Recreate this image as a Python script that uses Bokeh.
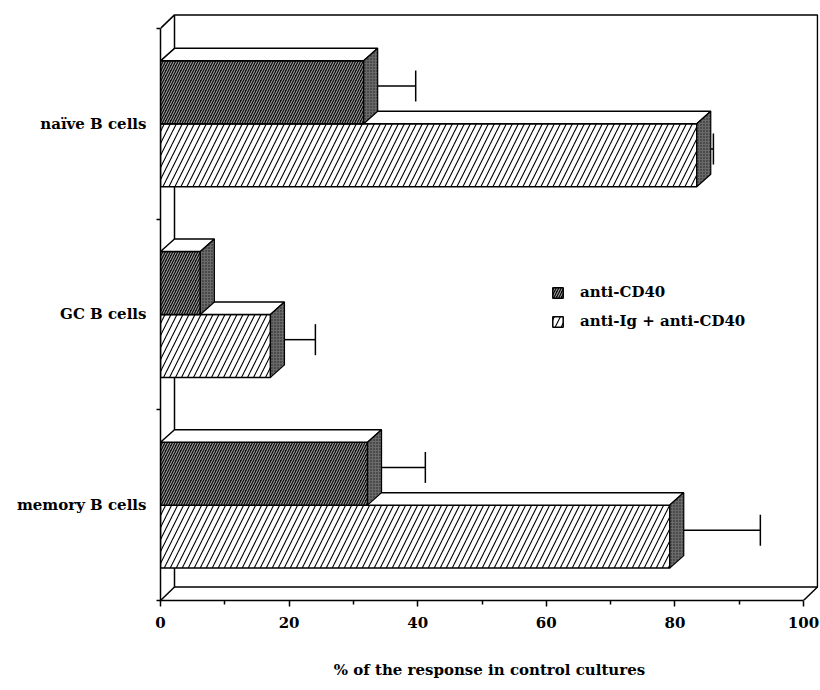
from bokeh.plotting import figure
from bokeh.models import (Range1d, FixedTicker, Legend, LegendItem)
from bokeh.embed import file_html
from bokeh.resources import INLINE

# ---------------- data ----------------
categories = ["naïve B cells", "GC B cells", "memory B cells"]
anti_cd40 = [31.6, 6.2, 32.2]
anti_ig = [83.4, 17.1, 79.2]
err_cd40 = [7.0, 0.8, 7.9]
err_ig = [1.5, 5.9, 13.0]
series_names = ["anti-CD40", "anti-Ig + anti-CD40"]
x_ticks = [0, 20, 40, 60, 80, 100]
x_minor = [10, 30, 50, 70, 90]
x_title = "% of the response in control cultures"

# ---------------- layout constants ----------------
W, H = 820, 682
BL, BT, BR = 160, 13, 2
FRAME_W = W - BL - BR          # 658
FRAME_H = 587
BB = H - BT - FRAME_H
SX = 6.43                      # px per x unit
SY = 190.7                     # px per category band
X_END = FRAME_W / SX
Y_END = FRAME_H / SY
WDX, WDY = 14 / SX, 13.5 / SY  # wall depth (data units)
BDX, BDY = 14 / SX, 12.5 / SY  # bar depth (data units)
BAR_H = 0.33
CAP = 15.5 / SY

FONT = "DejaVu Serif"

p = figure(width=W, height=H, output_backend="svg", toolbar_location=None,
           x_range=Range1d(0, X_END), y_range=Range1d(0, Y_END),
           min_border_left=BL, min_border_right=BR, min_border_top=BT,
           min_border_bottom=BB)
p.outline_line_color = None
p.xgrid.visible = False
p.ygrid.visible = False
p.background_fill_color = "white"

n = len(categories)
centers = [n - 0.5 - i for i in range(n)]

# ---------------- walls ----------------
p.quad(left=[WDX], right=[100 + WDX], bottom=[WDY], top=[n + WDY],
       fill_color="white", line_color="black", line_width=1.5)
p.segment(x0=[0, 0, 100], y0=[n, 0, 0], x1=[WDX, WDX, 100 + WDX],
          y1=[n + WDY, WDY, WDY], line_color="black", line_width=1.5)

# ---------------- error bars ----------------
ex0, ex1, ey, cy0, cy1 = [], [], [], [], []
for i in range(n):
    for v, e, off in ((anti_cd40[i], err_cd40[i], BAR_H / 2),
                      (anti_ig[i], err_ig[i], -BAR_H / 2)):
        yy = centers[i] + off + BDY / 2
        end = v + e + BDX / 2
        ex0.append(v + BDX)
        ex1.append(end)
        ey.append(yy)
        cy0.append(yy - CAP)
        cy1.append(yy + CAP)
p.segment(x0=ex0, y0=ey, x1=ex1, y1=ey, line_color="black", line_width=1.5)
p.segment(x0=ex1, y0=cy0, x1=ex1, y1=cy1, line_color="black", line_width=1.5)

# ---------------- bars ----------------
def faces(vals, offs):
    top_xs, top_ys, side_xs, side_ys = [], [], [], []
    for i, v in enumerate(vals):
        b = centers[i] + offs
        t = b + BAR_H
        top_xs.append([0, v, v + BDX, BDX])
        top_ys.append([t, t, t + BDY, t + BDY])
        side_xs.append([v, v + BDX, v + BDX, v])
        side_ys.append([b, b + BDY, t + BDY, t])
    return top_xs, top_ys, side_xs, side_ys

styles = [
    dict(fill_color="#101010", hatch_pattern="right_diagonal_line",
         hatch_color="#b0b0b0", hatch_scale=5, hatch_weight=1.0),
    dict(fill_color="white", hatch_pattern="right_diagonal_line",
         hatch_color="black", hatch_scale=12, hatch_weight=1.1),
]
order = [(anti_ig, -BAR_H, 1), (anti_cd40, 0.0, 0)]
rmap = {}
for vals, offs, si in order:
    ys = [c + offs + BAR_H / 2 for c in centers]
    r = p.hbar(y=ys, left=0, right=vals, height=BAR_H, line_color="black",
               line_width=1.5, **styles[si])
    rmap[si] = r
    tx, ty, sx_, sy_ = faces(vals, offs)
    p.patches(xs=tx, ys=ty, fill_color="white", line_color="black", line_width=1.5)
    p.patches(xs=sx_, ys=sy_, fill_color="#6a6a6a", hatch_pattern="dot",
              hatch_color="#1a1a1a", hatch_scale=3, hatch_weight=1,
              line_color="black", line_width=1.2)

# ---------------- axes ----------------
xa = p.xaxis[0]
xa.bounds = (0, 100)
xa.ticker = FixedTicker(ticks=x_ticks, minor_ticks=x_minor)
xa.axis_line_width = 1.5
xa.major_tick_line_width = 1.5
xa.minor_tick_line_width = 1.5
xa.major_tick_out = 6
xa.major_tick_in = 0
xa.minor_tick_out = 4
xa.minor_tick_in = 0
xa.major_label_standoff = 10
xa.major_label_text_font = FONT
xa.major_label_text_font_style = "bold"
xa.major_label_text_font_size = "15px"
xa.major_label_text_color = "black"
xa.axis_label = x_title
xa.axis_label_text_font = FONT
xa.axis_label_text_font_style = "bold"
xa.axis_label_text_font_size = "15px"
xa.axis_label_text_color = "black"
xa.axis_label_standoff = 30

ya = p.yaxis[0]
ya.bounds = (0, n)
ya.ticker = FixedTicker(ticks=centers, minor_ticks=list(range(n + 1)))
ya.major_label_overrides = {c: categories[i] for i, c in enumerate(centers)}
ya.axis_line_width = 1.5
ya.major_tick_out = 0
ya.major_tick_in = 0
ya.minor_tick_out = 4
ya.minor_tick_in = 0
ya.minor_tick_line_width = 1.5
ya.major_label_standoff = 10
ya.major_label_text_font = FONT
ya.major_label_text_font_style = "bold"
ya.major_label_text_font_size = "15px"
ya.major_label_text_color = "black"

# ---------------- legend ----------------
legend = Legend(items=[LegendItem(label=series_names[0], renderers=[rmap[0]]),
                       LegendItem(label=series_names[1], renderers=[rmap[1]])],
                location=(391, 269), padding=0, margin=0, spacing=9,
                glyph_width=13, glyph_height=13, label_height=20,
                label_standoff=16, border_line_alpha=0, background_fill_alpha=0,
                label_text_font=FONT, label_text_font_style="bold",
                label_text_font_size="15px", label_text_color="black")
p.add_layout(legend, "center")

open("out.html", "w").write(file_html(p, INLINE))
